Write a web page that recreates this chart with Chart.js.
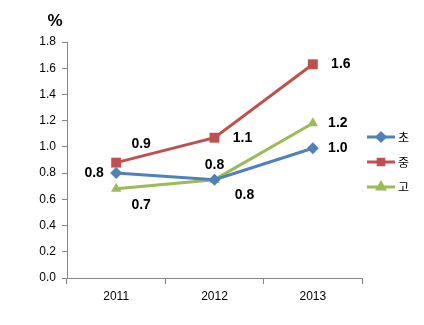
<!DOCTYPE html>
<html>
<head>
<meta charset="utf-8">
<script src="https://cdn.jsdelivr.net/npm/chart.js@4/dist/chart.umd.min.js"></script>
<style>
  html, body { margin: 0; padding: 0; background: #fff; }
  #wrap { width: 424px; height: 325px; position: relative; }
</style>
</head>
<body>
<div id="wrap"><canvas id="chart" width="424" height="325"></canvas></div>
<script>
// --- datos ---
const anios = ['2011', '2012', '2013'];
const nombres = ['초', '중', '고'];
const valoresCho = [0.80, 0.75, 0.99];
const valoresJung = [0.88, 1.07, 1.63];
const valoresGo = [0.68, 0.75, 1.18];
const ticksY = [0, 0.2, 0.4, 0.6, 0.8, 1.0, 1.2, 1.4, 1.6, 1.8];

const colores = ['#4F81BD', '#C0504D', '#9BBB59'];
const marcadores = ['rectRot', 'rect', 'triangle'];
const radios = [6, 7, 6];

// desplazamiento de cada etiqueta respecto a su punto [dx, dy]
const offsetsEtiquetas = [
  [[-22, 0], [30, 15], [25, 0]],
  [[25, -18], [28, 0], [28, 0]],
  [[25, 16], [0, -15], [25, 0]]
];

// etiquetas de valor en negrita
const pluginEtiquetas = {
  id: 'etiquetas',
  afterDatasetsDraw(chart) {
    const ctx = chart.ctx;
    ctx.save();
    ctx.font = 'bold 14px "Liberation Sans", Arial, sans-serif';
    ctx.fillStyle = '#000';
    ctx.textAlign = 'center';
    ctx.textBaseline = 'middle';
    chart.data.datasets.forEach((ds, i) => {
      chart.getDatasetMeta(i).data.forEach((pt, j) => {
        const [dx, dy] = offsetsEtiquetas[i][j];
        ctx.fillText(ds.data[j].toFixed(1), pt.x + dx, pt.y + dy);
      });
    });
    ctx.restore();
  }
};

// leyenda a la derecha y el símbolo % arriba
const pluginLeyenda = {
  id: 'leyenda',
  afterDraw(chart) {
    const ctx = chart.ctx;
    ctx.save();
    ctx.font = 'bold 17px "Liberation Sans", Arial, sans-serif';
    ctx.fillStyle = '#000';
    ctx.textAlign = 'center';
    ctx.textBaseline = 'middle';
    ctx.fillText('%', 55, 21);

    nombres.forEach((n, i) => {
      const y = 137 + i * 25;
      ctx.strokeStyle = colores[i];
      ctx.lineWidth = 3;
      ctx.beginPath();
      ctx.moveTo(367, y);
      ctx.lineTo(395, y);
      ctx.stroke();
      Chart.helpers.drawPoint(ctx, {
        pointStyle: marcadores[i], radius: 4, borderWidth: 1, rotation: 0
      }, 381, y);
      ctx.fillStyle = colores[i];
      ctx.fill();
      ctx.fillStyle = '#000';
      ctx.font = '12px "Noto Sans CJK KR", sans-serif';
      ctx.textAlign = 'left';
      ctx.fillText(n, 398, y);
    });
    ctx.restore();
  }
};

const series = [valoresCho, valoresJung, valoresGo];

new Chart(document.getElementById('chart'), {
  type: 'line',
  data: {
    labels: anios,
    datasets: series.map((d, i) => ({
      label: nombres[i],
      data: d,
      borderColor: colores[i],
      backgroundColor: colores[i],
      borderWidth: 3,
      pointStyle: marcadores[i],
      pointRadius: radios[i],
      pointBorderWidth: 0,
      pointBackgroundColor: colores[i],
      tension: 0
    }))
  },
  options: {
    responsive: false,
    animation: false,
    layout: { padding: { top: 42, right: 62, left: 0, bottom: 0 } },
    plugins: { legend: { display: false }, tooltip: { enabled: false } },
    scales: {
      x: {
        offset: true,
        grid: { offset: true, drawOnChartArea: false, tickLength: 6, color: '#868686' },
        border: { color: '#868686', width: 1 },
        ticks: { color: '#000', font: { family: '"Liberation Sans", Arial, sans-serif', size: 12 }, padding: 5 },
        afterFit(s) { s.height = 47; }
      },
      y: {
        min: 0,
        max: 1.8,
        afterBuildTicks(s) { s.ticks = ticksY.map(v => ({ value: v })); },
        grid: { drawOnChartArea: false, tickLength: 5, color: '#868686' },
        border: { color: '#868686', width: 1 },
        ticks: {
          color: '#000',
          font: { family: '"Liberation Sans", Arial, sans-serif', size: 12 },
          padding: 6,
          callback: v => v.toFixed(1)
        },
        afterFit(s) { s.width = 67; }
      }
    }
  },
  plugins: [pluginEtiquetas, pluginLeyenda]
});
</script>
</body>
</html>
